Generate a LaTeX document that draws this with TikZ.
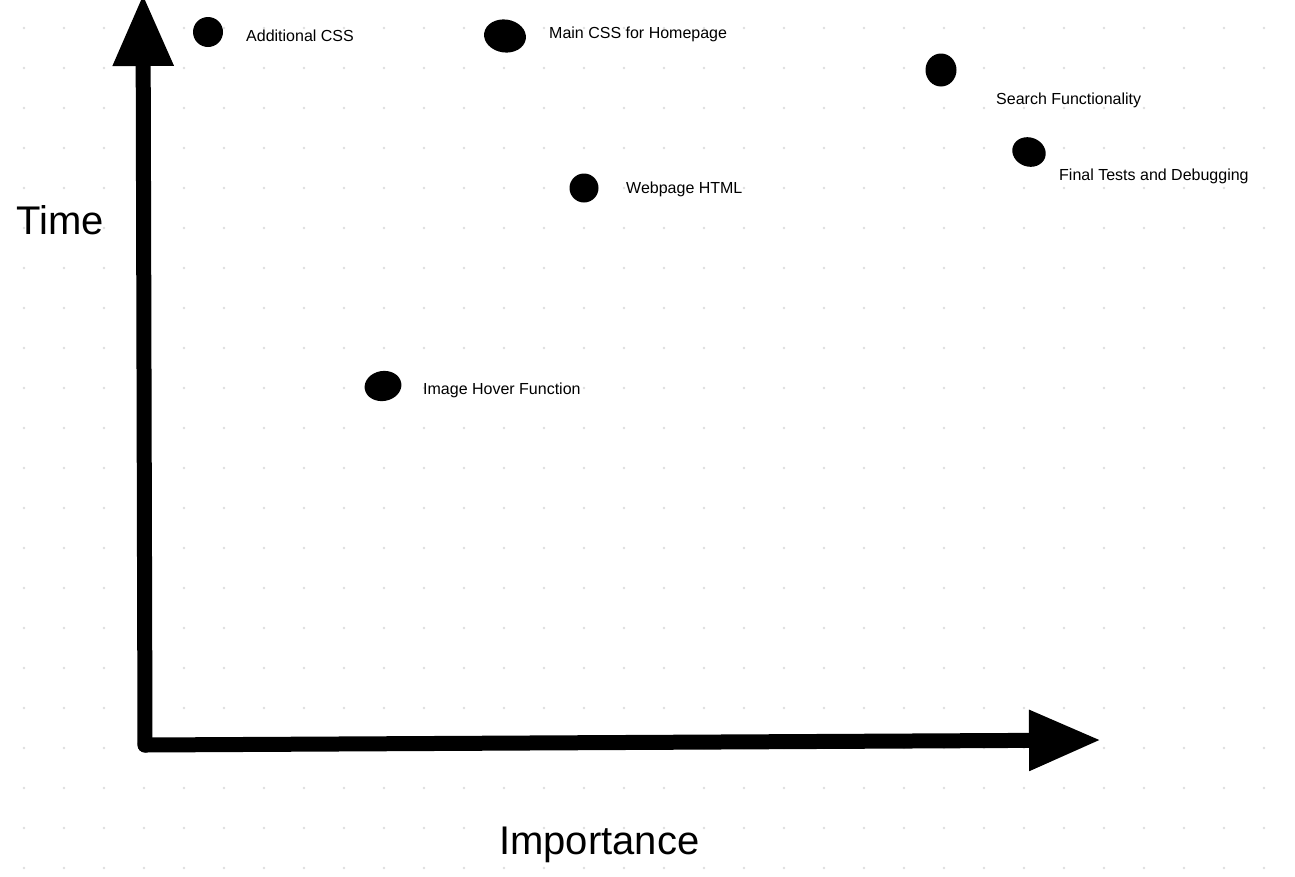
\documentclass[tikz,border=0pt]{standalone}
\usepackage{fontspec}
\setmainfont{Liberation Sans}
\usetikzlibrary{arrows.meta,shapes.geometric}
\begin{document}
\begin{tikzpicture}[x=1pt,y=-1pt,
  blob/.style={ellipse,fill=black,inner sep=0pt},
  lbl/.style={anchor=base west,inner sep=0pt,font=\fontsize{16}{19}\selectfont},
  biglbl/.style={anchor=base west,inner sep=0pt,font=\fontsize{40}{48}\selectfont},
  axis/.style={line width=15pt,line cap=round,-{Triangle[length=72pt,width=57pt]}},
  griddot/.style={fill=black!13}
]
\useasboundingbox (0,0) rectangle (1295,876);
\fill[white] (0,0) rectangle (1295,876);
% dotted grid
\foreach \i in {0,...,31}{
  \foreach \j in {0,...,21}{
    \fill[griddot] ({24+40*\i},{28+40*\j}) circle (1.3);
  }
}
% axes
\coordinate (origin) at (145,745);
\coordinate (ytip) at (143,-6);
\coordinate (xtip) at (1101,740);
\draw[axis] (origin) -- (ytip);
\draw[axis] (origin) -- (xtip);
% axis labels
\node[biglbl] (time) at (16,234) {Time};
\node[biglbl] (importance) at (499,854) {Importance};
% items
\node[blob,minimum width=30pt,minimum height=30pt] (b1) at (208,32) {};
\node[lbl] (t1) at (246,41) {Additional CSS};
\node[blob,minimum width=42pt,minimum height=33pt,rotate=-8] (b2) at (505,36) {};
\node[lbl] (t2) at (549,38) {Main CSS for Homepage};
\node[blob,minimum width=31pt,minimum height=33pt] (b3) at (941,70) {};
\node[lbl] (t3) at (996,104) {Search Functionality};
\node[blob,minimum width=34pt,minimum height=29pt,rotate=-20] (b4) at (1029,152) {};
\node[lbl] (t4) at (1059,180) {Final Tests and Debugging};
\node[blob,minimum width=29pt,minimum height=29pt] (b5) at (584,188) {};
\node[lbl] (t5) at (626,193) {Webpage HTML};
\node[blob,minimum width=37pt,minimum height=30pt,rotate=10] (b6) at (383,386) {};
\node[lbl] (t6) at (423,394) {Image Hover Function};
\end{tikzpicture}
\end{document}
